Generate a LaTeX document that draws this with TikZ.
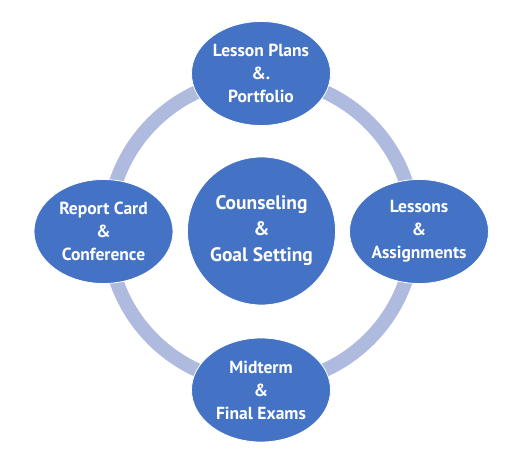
\documentclass[tikz,border=0pt]{standalone}
\usepackage{fontspec}
\setmainfont{PT Sans}
\definecolor{nodeblue}{RGB}{68,114,196}
\definecolor{ringblue}{RGB}{174,187,222}
\begin{document}
\begin{tikzpicture}[x=1pt,y=-1pt,
  cyclenode/.style={ellipse, fill=nodeblue, draw=white, line width=0.8pt,
    minimum width=139pt, minimum height=104pt, inner sep=0pt,
    text=white, font=\bfseries\fontsize{17.5}{23}\selectfont, align=center},
  hubnode/.style={circle, fill=nodeblue, draw=white, line width=0.8pt,
    minimum size=148pt, inner sep=0pt,
    text=white, font=\bfseries\fontsize{19.5}{26}\selectfont, align=center}]
\usetikzlibrary{shapes.geometric}
\useasboundingbox (0,0) rectangle (524,463);
\coordinate (c) at (261,231);
\draw[ringblue, line width=14pt] (c) circle[radius=153];
\node[hubnode] (hub) at (261.5,231) {Counseling\\\&\\Goal Setting};
\node[cyclenode] (top) at (261,73.5) {Lesson Plans\\\&.\\Portfolio};
\node[cyclenode] (right) at (419,231.5) {Lessons\\\&\\Assignments};
\node[cyclenode] (bottom) at (261,390) {Midterm\\\&\\Final Exams};
\node[cyclenode] (left) at (103.5,231.5) {Report Card\\\&\\Conference};
\end{tikzpicture}
\end{document}
